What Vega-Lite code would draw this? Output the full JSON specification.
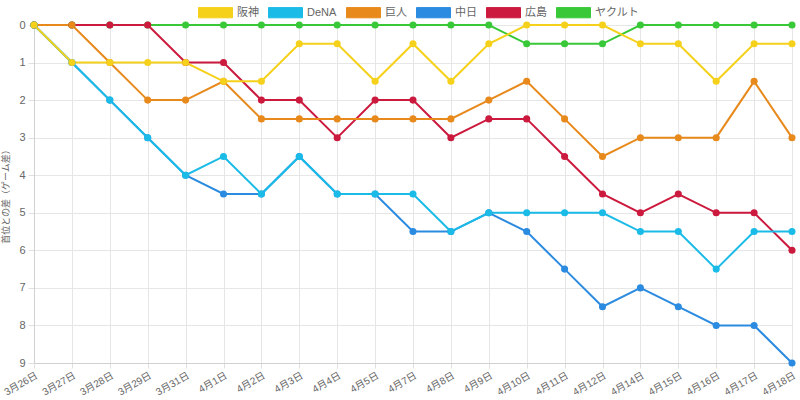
{
  "$schema": "https://vega.github.io/schema/vega-lite/v6.json",
  "description": "首位とのゲーム差の推移",
  "width": 758,
  "height": 338,
  "autosize": "none",
  "padding": {"left": 34, "top": 25, "right": 8, "bottom": 37},
  "data": {
    "values": [
      {"date": "3月26日", "阪神": 0, "DeNA": 0, "巨人": 0, "中日": 0, "広島": 0, "ヤクルト": 0},
      {"date": "3月27日", "阪神": 1, "DeNA": 1, "巨人": 0, "中日": 1, "広島": 0, "ヤクルト": 0},
      {"date": "3月28日", "阪神": 1, "DeNA": 2, "巨人": 1, "中日": 2, "広島": 0, "ヤクルト": 0},
      {"date": "3月29日", "阪神": 1, "DeNA": 3, "巨人": 2, "中日": 3, "広島": 0, "ヤクルト": 0},
      {"date": "3月31日", "阪神": 1, "DeNA": 4, "巨人": 2, "中日": 4, "広島": 1, "ヤクルト": 0},
      {"date": "4月1日", "阪神": 1.5, "DeNA": 3.5, "巨人": 1.5, "中日": 4.5, "広島": 1, "ヤクルト": 0},
      {"date": "4月2日", "阪神": 1.5, "DeNA": 4.5, "巨人": 2.5, "中日": 4.5, "広島": 2, "ヤクルト": 0},
      {"date": "4月3日", "阪神": 0.5, "DeNA": 3.5, "巨人": 2.5, "中日": 3.5, "広島": 2, "ヤクルト": 0},
      {"date": "4月4日", "阪神": 0.5, "DeNA": 4.5, "巨人": 2.5, "中日": 4.5, "広島": 3, "ヤクルト": 0},
      {"date": "4月5日", "阪神": 1.5, "DeNA": 4.5, "巨人": 2.5, "中日": 4.5, "広島": 2, "ヤクルト": 0},
      {"date": "4月7日", "阪神": 0.5, "DeNA": 4.5, "巨人": 2.5, "中日": 5.5, "広島": 2, "ヤクルト": 0},
      {"date": "4月8日", "阪神": 1.5, "DeNA": 5.5, "巨人": 2.5, "中日": 5.5, "広島": 3, "ヤクルト": 0},
      {"date": "4月9日", "阪神": 0.5, "DeNA": 5, "巨人": 2, "中日": 5, "広島": 2.5, "ヤクルト": 0},
      {"date": "4月10日", "阪神": 0, "DeNA": 5, "巨人": 1.5, "中日": 5.5, "広島": 2.5, "ヤクルト": 0.5},
      {"date": "4月11日", "阪神": 0, "DeNA": 5, "巨人": 2.5, "中日": 6.5, "広島": 3.5, "ヤクルト": 0.5},
      {"date": "4月12日", "阪神": 0, "DeNA": 5, "巨人": 3.5, "中日": 7.5, "広島": 4.5, "ヤクルト": 0.5},
      {"date": "4月14日", "阪神": 0.5, "DeNA": 5.5, "巨人": 3, "中日": 7, "広島": 5, "ヤクルト": 0},
      {"date": "4月15日", "阪神": 0.5, "DeNA": 5.5, "巨人": 3, "中日": 7.5, "広島": 4.5, "ヤクルト": 0},
      {"date": "4月16日", "阪神": 1.5, "DeNA": 6.5, "巨人": 3, "中日": 8, "広島": 5, "ヤクルト": 0},
      {"date": "4月17日", "阪神": 0.5, "DeNA": 5.5, "巨人": 1.5, "中日": 8, "広島": 5, "ヤクルト": 0},
      {"date": "4月18日", "阪神": 0.5, "DeNA": 5.5, "巨人": 3, "中日": 9, "広島": 6, "ヤクルト": 0}
    ]
  },
  "transform": [
    {"fold": ["ヤクルト", "広島", "中日", "巨人", "DeNA", "阪神"], "as": ["team", "gap"]}
  ],
  "config": {
    "font": "Liberation Sans, Noto Sans CJK JP",
    "view": {"stroke": null},
    "axis": {
      "labelColor": "#666666",
      "titleColor": "#666666",
      "gridColor": "#e6e6e6",
      "tickColor": "#e0e0e0",
      "domainColor": "#d0d0d0",
      "titleFontWeight": "normal"
    },
    "legend": {
      "labelColor": "#666666",
      "labelFontSize": 11
    }
  },
  "encoding": {
    "x": {
      "field": "date",
      "type": "ordinal",
      "sort": ["3月26日", "3月27日", "3月28日", "3月29日", "3月31日", "4月1日", "4月2日", "4月3日", "4月4日", "4月5日", "4月7日", "4月8日", "4月9日", "4月10日", "4月11日", "4月12日", "4月14日", "4月15日", "4月16日", "4月17日", "4月18日"],
      "scale": {"type": "point", "padding": 0},
      "axis": {
        "title": null,
        "grid": true,
        "labelAngle": -30,
        "labelAlign": "right",
        "labelBaseline": "top",
        "labelFontSize": 10,
        "labelPadding": 2,
        "tickSize": 5
      }
    },
    "y": {
      "field": "gap",
      "type": "quantitative",
      "scale": {"domain": [0, 9], "reverse": true, "nice": false},
      "axis": {
        "title": "首位との差（ゲーム差）",
        "titleFontSize": 9,
        "titlePadding": 8,
        "values": [0, 1, 2, 3, 4, 5, 6, 7, 8, 9],
        "labelFontSize": 11,
        "labelPadding": 3,
        "tickSize": 6,
        "grid": true
      }
    },
    "color": {
      "field": "team",
      "type": "nominal",
      "scale": {
        "domain": ["阪神", "DeNA", "巨人", "中日", "広島", "ヤクルト"],
        "range": ["#f5d11c", "#1bbbe8", "#e8891c", "#2b8be0", "#cc1a3e", "#38c838"]
      },
      "legend": {
        "title": null,
        "orient": "none",
        "legendX": 164,
        "legendY": -30,
        "direction": "horizontal",
        "padding": 0,
        "symbolType": "M-1,-0.3H1V0.3H-1Z",
        "symbolSize": 1156,
        "symbolOpacity": 1,
        "symbolStrokeWidth": 1,
        "labelOffset": 4,
        "columnPadding": 7
      }
    }
  },
  "layer": [
    {"mark": {"type": "line", "strokeWidth": 2}},
    {"mark": {"type": "point", "filled": true, "size": 50, "opacity": 1}}
  ]
}
